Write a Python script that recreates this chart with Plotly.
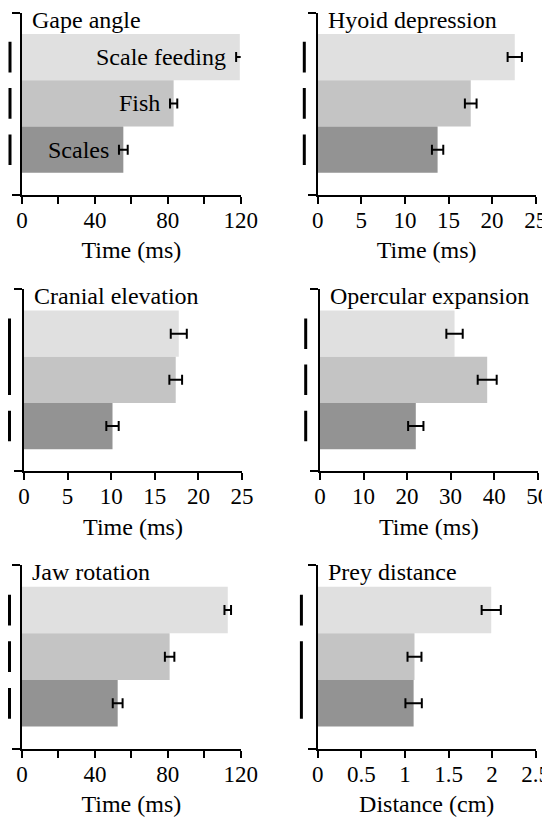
import plotly.graph_objects as go

W, H = 550, 819
OFF = 8  # page body margin of the browser; figure is drawn shifted by this

# ---------------- data ----------------
categories = ["Scale feeding", "Fish", "Scales"]   # top -> bottom
cat_pos = [2, 1, 0]

titles = ["Gape angle", "Hyoid depression", "Cranial elevation",
          "Opercular expansion", "Jaw rotation", "Prey distance"]
x_titles = ["Time (ms)", "Time (ms)", "Time (ms)", "Time (ms)", "Time (ms)", "Distance (cm)"]

gape_vals = [119.5, 83.2, 55.6]
gape_err = [2.0, 2.0, 2.4]
hyoid_vals = [22.6, 17.55, 13.75]
hyoid_err = [0.82, 0.67, 0.65]
cranial_vals = [17.75, 17.4, 10.15]
cranial_err = [0.92, 0.73, 0.71]
opercular_vals = [30.9, 38.4, 22.0]
opercular_err = [1.88, 2.18, 1.76]
jaw_vals = [112.9, 81.0, 52.5]
jaw_err = [1.8, 2.6, 2.7]
prey_vals = [1.99, 1.11, 1.10]
prey_err = [0.11, 0.08, 0.094]

# significance groupings (category positions joined by one line)
gape_groups = [[2], [1], [0]]
hyoid_groups = [[2], [1], [0]]
cranial_groups = [[2, 1], [0]]
opercular_groups = [[2], [1], [0]]
jaw_groups = [[2], [1], [0]]
prey_groups = [[2], [1, 0]]

x_max = [120, 25, 25, 50, 120, 2.5]
tick_vals_list = [
    [0, 20, 40, 60, 80, 100, 120],
    [0, 5, 10, 15, 20, 25],
    [0, 5, 10, 15, 20, 25],
    [0, 10, 20, 30, 40, 50],
    [0, 20, 40, 60, 80, 100, 120],
    [0, 0.5, 1, 1.5, 2, 2.5],
]
tick_text_list = [
    ["0", "", "40", "", "80", "", "120"],
    ["0", "5", "10", "15", "20", "25"],
    ["0", "5", "10", "15", "20", "25"],
    ["0", "10", "20", "30", "40", "50"],
    ["0", "", "40", "", "80", "", "120"],
    ["0", "0.5", "1", "1.5", "2", "2.5"],
]

values = [gape_vals, hyoid_vals, cranial_vals, opercular_vals, jaw_vals, prey_vals]
errors = [gape_err, hyoid_err, cranial_err, opercular_err, jaw_err, prey_err]
groups = [gape_groups, hyoid_groups, cranial_groups, opercular_groups, jaw_groups, prey_groups]

# ---------------- style / layout ----------------
bar_colors = ["#e0e0e0", "#c4c4c4", "#939393"]
FONT = "Liberation Serif"
FS = 24
FS_TICK = 23

# pixel domains in the reference picture (left, right, top, bottom)
px_dom = [
    (22, 240.7, 12.7, 195),
    (317.7, 535.7, 12.7, 195),
    (24, 242, 289.3, 471.3),
    (320, 537.7, 289.3, 471.3),
    (22, 240.7, 565.3, 749),
    (317.7, 535.7, 565.3, 749),
]
sig_offset_px = [-12, -13.4, -15, -14.3, -14.7, -16.3]
y_range = [-0.98, 2.96]

fig = go.Figure()
layout = dict(
    template="none",
    width=W, height=H,
    margin=dict(l=0, r=0, t=0, b=0, autoexpand=False),
    paper_bgcolor="white", plot_bgcolor="white",
    showlegend=False,
    font=dict(family=FONT, size=FS, color="black"),
)
annotations = []
shapes = []

for i in range(6):
    n = "" if i == 0 else str(i + 1)
    xa, ya = "x" + n, "y" + n
    l, r, t, b = [v - OFF for v in px_dom[i]]
    fig.add_trace(go.Bar(
        x=values[i], y=cat_pos, orientation="h", width=1.0,
        marker=dict(color=bar_colors, line=dict(width=0)),
        error_x=dict(type="data", array=errors[i], visible=True,
                     color="black", thickness=2, width=5),
        xaxis=xa, yaxis=ya, hoverinfo="skip",
    ))
    layout["xaxis" + n] = dict(
        domain=[l / W, r / W], anchor=ya, range=[0, x_max[i]],
        automargin=False,
        showline=True, linecolor="black", linewidth=2,
        ticks="outside", ticklen=7, tickwidth=2, tickcolor="black",
        tickvals=tick_vals_list[i], ticktext=tick_text_list[i],
        tickfont=dict(family=FONT, size=FS_TICK), ticklabelstandoff=-4,
        showgrid=False, zeroline=False,
        title=dict(text=x_titles[i], font=dict(family=FONT, size=FS), standoff=10),
    )
    layout["yaxis" + n] = dict(
        domain=[1 - b / H, 1 - t / H], anchor=xa, range=y_range,
        automargin=False,
        showline=True, linecolor="black", linewidth=2,
        ticks="outside", ticklen=8, tickwidth=2, tickcolor="black",
        tickvals=y_range, showticklabels=False,
        showgrid=False, zeroline=False,
    )
    annotations.append(dict(
        text=titles[i], xref=xa + " domain", yref=ya + " domain",
        x=0, y=1, xanchor="left", yanchor="top", xshift=8, yshift=8,
        showarrow=False, font=dict(family=FONT, size=FS),
    ))
    # keep the grouping line inside the drawable page
    off = max(sig_offset_px[i], 1.5 - l)
    for g in groups[i]:
        shapes.append(dict(
            type="line", xref=xa + " domain", yref=ya, xsizemode="pixel", xanchor=0,
            x0=off, x1=off,
            y0=min(g) - 0.33, y1=max(g) + 0.33,
            line=dict(color="black", width=3),
        ))

# bar labels in first panel
for k, cat in enumerate(categories):
    annotations.append(dict(
        text=cat, xref="x", yref="y",
        x=gape_vals[k] - gape_err[k], y=cat_pos[k],
        xanchor="right", yanchor="middle", xshift=-8,
        showarrow=False, font=dict(family=FONT, size=FS),
    ))

layout["annotations"] = annotations
layout["shapes"] = shapes
fig.update_layout(**layout)
fig.write_html("out.html")
